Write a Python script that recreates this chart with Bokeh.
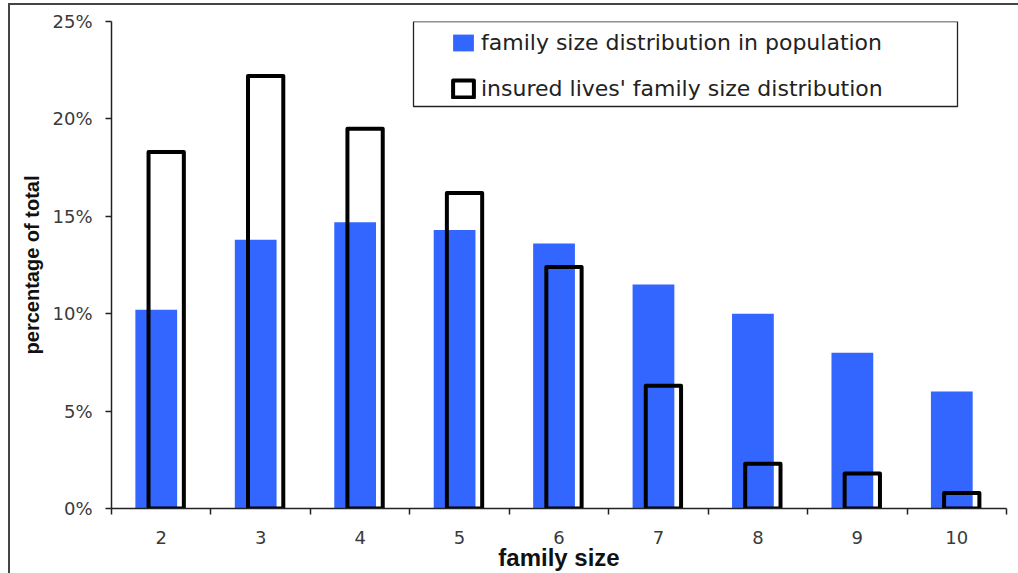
from bokeh.plotting import figure
from bokeh.models import (FixedTicker, NumeralTickFormatter, Range1d, Legend, LegendItem,
                          BoxAnnotation, ColumnDataSource)
from bokeh.transform import dodge
from bokeh.embed import file_html
from bokeh.resources import INLINE

family_size = [2, 3, 4, 5, 6, 7, 8, 9, 10]
population_pct = [0.102, 0.138, 0.147, 0.143, 0.136, 0.115, 0.100, 0.080, 0.060]
insured_pct = [0.183, 0.222, 0.195, 0.162, 0.124, 0.063, 0.023, 0.018, 0.008]
y_ticks = [0, 0.05, 0.10, 0.15, 0.20, 0.25]
series_names = ["family size distribution in population",
                "insured lives' family size distribution"]

src = ColumnDataSource(dict(x=family_size, pop=population_pct, ins=insured_pct))

FONT = "Liberation Sans"
WIDE = "DejaVu Sans"
p = figure(width=1018, height=573, output_backend="svg", toolbar_location=None,
           x_range=Range1d(1.5, 10.5), y_range=Range1d(0, 0.25),
           min_border_left=111, min_border_right=12, min_border_top=21, min_border_bottom=65)
p.outline_line_color = None
p.grid.visible = False
p.background_fill_color = "white"
p.border_fill_color = None
p.styles = {
    "background": ("linear-gradient(#444444, #444444) 8px 4px / 2px 100% no-repeat, "
                   "linear-gradient(#444444, #444444) 8px 3px / 100% 2px no-repeat, white"),
}

blue = p.vbar(x=dodge("x", -0.05, range=p.x_range), top="pop", width=0.42, source=src,
              fill_color="#3366FF", line_color=None)
black = p.vbar(x=dodge("x", 0.05, range=p.x_range), top="ins", width=0.355, source=src,
               fill_alpha=0, line_color="black", line_width=4, line_join="round")

# axes
xa = p.xaxis[0]
xa.ticker = FixedTicker(ticks=family_size,
                        minor_ticks=[v - 0.5 for v in family_size] + [family_size[-1] + 0.5])
xa.major_tick_out = 0
xa.major_tick_in = 0
xa.minor_tick_out = 6
xa.minor_tick_in = 0
xa.minor_tick_line_color = "#222222"
xa.minor_tick_line_width = 1.5
xa.major_label_standoff = 16
xa.axis_label = "family size"
xa.axis_label_text_font = FONT
xa.axis_label_text_font_style = "bold"
xa.axis_label_text_font_size = "24px"
xa.axis_label_text_color = "#111111"
xa.axis_label_standoff = -3

ya = p.yaxis[0]
ya.ticker = FixedTicker(ticks=y_ticks, minor_ticks=[])
ya.formatter = NumeralTickFormatter(format="0%")
ya.major_tick_out = 6
ya.major_tick_in = 0
ya.major_label_standoff = 13
ya.axis_label = "percentage of total"
ya.axis_label_text_font = FONT
ya.axis_label_text_font_style = "bold"
ya.axis_label_text_font_size = "20px"
ya.axis_label_text_color = "#111111"
ya.axis_label_standoff = 6

for ax in (xa, ya):
    ax.axis_line_color = "#222222"
    ax.axis_line_width = 1.5
    ax.major_tick_line_color = "#222222"
    ax.major_tick_line_width = 1.5
    ax.major_label_text_font = WIDE
    ax.major_label_text_font_size = "18px"
    ax.major_label_text_color = "#3a3a3a"

# legend box
p.add_layout(BoxAnnotation(left=302, right=846, top=487, bottom=402,
                           left_units="screen", right_units="screen",
                           top_units="screen", bottom_units="screen",
                           fill_alpha=0, line_color="#222222", line_alpha=1, line_width=1.3,
                           level="overlay"))

legend = Legend(items=[LegendItem(label=series_names[0], renderers=[blue]),
                       LegendItem(label=series_names[1], renderers=[black])],
                location=(339, 407), padding=0, margin=0, spacing=21,
                glyph_width=26, glyph_height=21, label_height=21, label_standoff=5,
                label_text_font=WIDE, label_text_font_size="22px",
                label_text_color="#222222",
                border_line_color=None, background_fill_alpha=0)
p.add_layout(legend)

open("out.html", "w").write(file_html(p, INLINE))
